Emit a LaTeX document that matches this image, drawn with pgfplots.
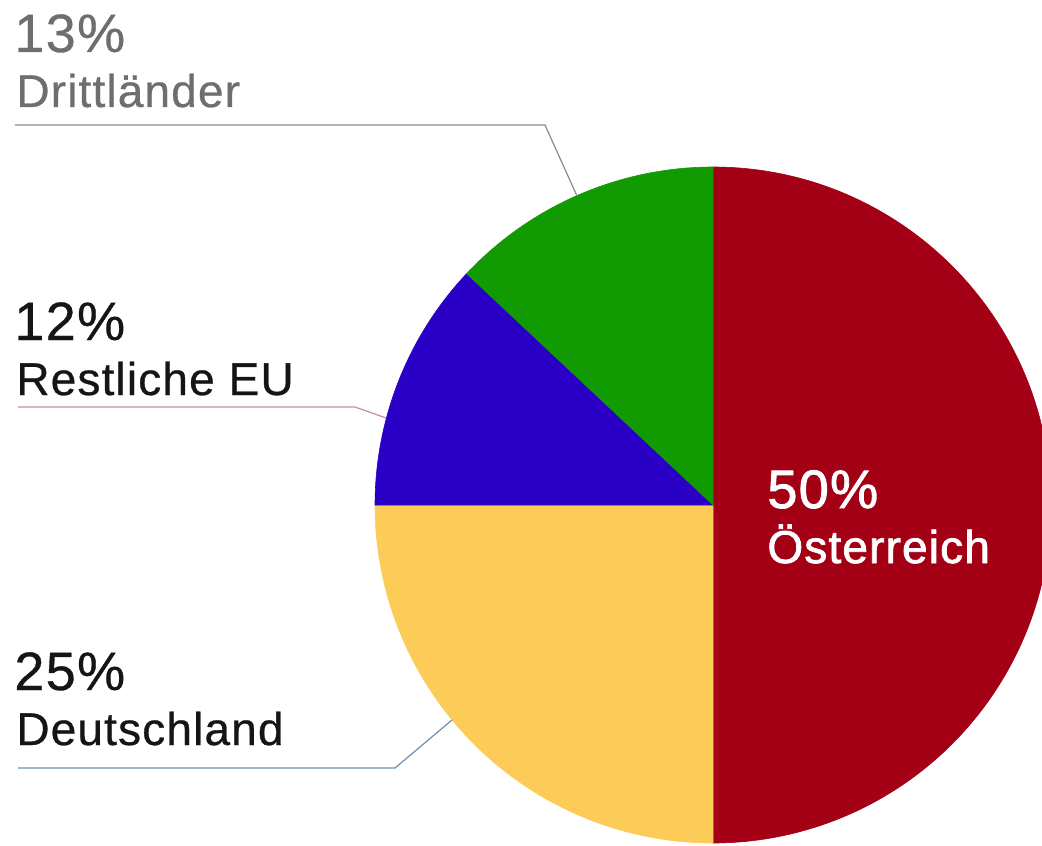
\documentclass[border=0pt]{standalone}
\usepackage{fontspec}
\setmainfont{Liberation Sans}[LetterSpace=2.5, FakeBold=0.6]
\newfontfamily\heavier{Liberation Sans}[LetterSpace=2.5, FakeBold=1.6]
\usepackage{pgfplots}
\usepackage{pgfplotstable}
\pgfplotsset{compat=1.18}
\definecolor{cAT}{HTML}{A30016}
\definecolor{cDE}{HTML}{FDCB57}
\definecolor{cEU}{HTML}{2A00C6}
\definecolor{cDR}{HTML}{129A02}
\definecolor{txtgray}{HTML}{6E6E6E}
\definecolor{txtblack}{HTML}{151515}
\definecolor{lnDR}{HTML}{8A8A8A}
\definecolor{lnEU}{HTML}{C88C9C}
\definecolor{lnDE}{HTML}{6F8DB2}

% shares in percent, in drawing order (clockwise from 12 o'clock)
\pgfplotstableread{
label value color
Oesterreich 50 cAT
Deutschland 25 cDE
RestlicheEU 12 cEU
Drittlaender 13 cDR
}\piedata

\newcommand{\pct}{\fontsize{27}{30}\selectfont}
\newcommand{\lbl}{\fontsize{23}{26}\selectfont}

\begin{document}
\begin{tikzpicture}
\path[clip,use as bounding box] (0,0) rectangle (521pt,422.5pt);
\begin{axis}[
  width=521pt, height=422.5pt, scale only axis,
  xmin=0, xmax=1042, ymin=0, ymax=845, y dir=reverse,
  hide axis, clip=false,
]
\pgfplotsextra{
  \gdef\startang{90}
  \foreach \i in {0,...,3}{
    \pgfplotstablegetelem{\i}{value}\of\piedata \let\v\pgfplotsretval
    \pgfplotstablegetelem{\i}{color}\of\piedata \let\c\pgfplotsretval
    \pgfmathsetmacro\endang{\startang-3.6*\v}
    \fill[fill=\c, draw=\c, line width=0.3pt] (axis cs:713,505) -- ++(\startang:169pt)
      arc[start angle=\startang, end angle=\endang, radius=169pt] -- cycle;
    \global\let\startang\endang
  }
}
% leader lines
\draw[lnDR, line width=0.6pt] (axis cs:15,125) -- (axis cs:545,125) -- (axis cs:577,196);
\draw[lnEU, line width=0.6pt] (axis cs:18,407) -- (axis cs:355,407) -- (axis cs:386,418);
\draw[lnDE, line width=0.6pt] (axis cs:18,768) -- (axis cs:395,768) -- (axis cs:452,720);
% labels
\node[anchor=base west, inner sep=0pt, txtgray] at (axis cs:14,52) {\pct 13\%};
\node[anchor=base west, inner sep=0pt, txtgray] at (axis cs:16,107) {\lbl Drittländer};
\node[anchor=base west, inner sep=0pt, txtblack] at (axis cs:14,340) {\pct 12\%};
\node[anchor=base west, inner sep=0pt, txtblack] at (axis cs:16,395) {\lbl Restliche EU};
\node[anchor=base west, inner sep=0pt, txtblack] at (axis cs:14,690) {\pct 25\%};
\node[anchor=base west, inner sep=0pt, txtblack] at (axis cs:16,745) {\lbl Deutschland};
\node[anchor=base west, inner sep=0pt, white] at (axis cs:767,508) {\heavier\pct 50\%};
\node[anchor=base west, inner sep=0pt, white] at (axis cs:767,563) {\heavier\lbl Österreich};
\end{axis}
\end{tikzpicture}
\end{document}
